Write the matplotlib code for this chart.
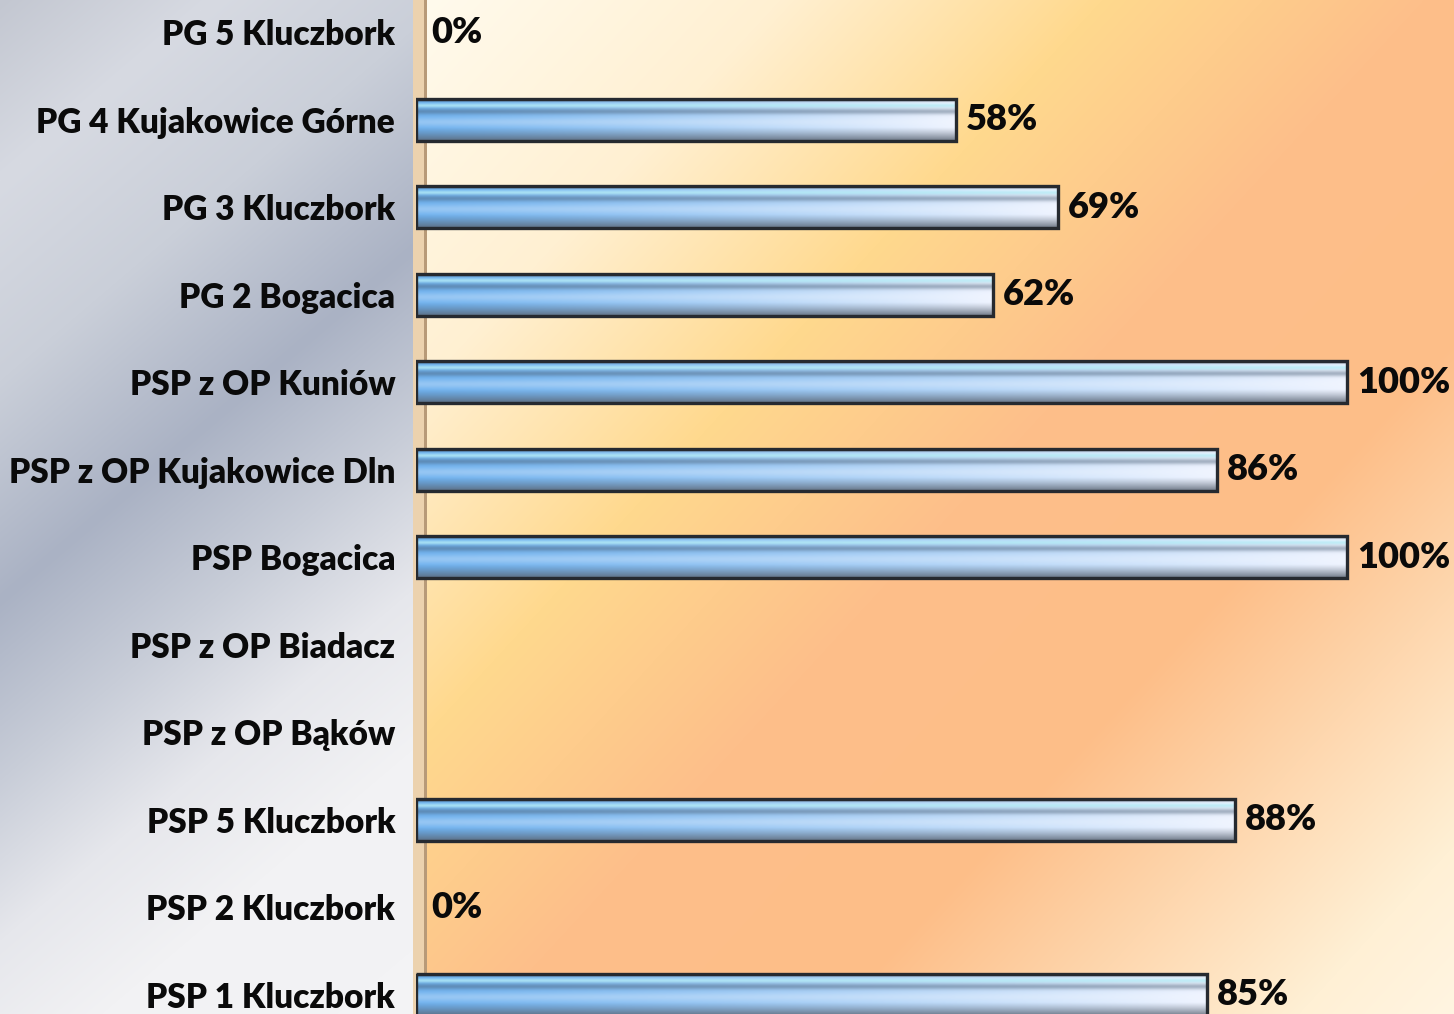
import numpy as np
import matplotlib
matplotlib.use("Agg")
import matplotlib.pyplot as plt
from matplotlib.colors import to_rgb

# data (top to bottom as in the chart); None = no value shown
schools = ["PG 5 Kluczbork", "PG 4 Kujakowice Górne", "PG 3 Kluczbork", "PG 2 Bogacica",
           "PSP z OP Kuniów", "PSP z OP Kujakowice Dln", "PSP Bogacica", "PSP z OP Biadacz",
           "PSP z OP Bąków", "PSP 5 Kluczbork", "PSP 2 Kluczbork", "PSP 1 Kluczbork"]
percent = [0, 58, 69, 62, 100, 86, 100, None, None, 88, 0, 85]

W, H = 1454, 1014
AX_LEFT = 416  # px where the plot area starts

plt.rcParams['font.family'] = ['Lato', 'DejaVu Sans']


def ramp(d, stops):
    # piecewise linear colour ramp, stops = [(pos, hex), ...]
    pos = [s[0] for s in stops]
    cols = np.array([to_rgb(s[1]) for s in stops])
    return np.stack([np.interp(d, pos, cols[:, k]) for k in range(3)], axis=-1)


# ---- background (silver panel on the left, warm gradient in the plot area)
yy, xx = np.mgrid[0:H, 0:W].astype(float)
silver = ramp(yy + 0.85 * xx, [(0, '#c3c7d1'), (180, '#d7dae2'), (380, '#cacfd9'),
                                (600, '#aab2c4'), (780, '#c8cdd8'), (940, '#e6e7ec'),
                                (1100, '#f2f2f4'), (1500, '#f4f4f6')])
u = (xx - AX_LEFT) / (W - AX_LEFT)
v = yy / H
warm = ramp(u + 0.9 * v, [(0, '#fffbee'), (0.35, '#fff0d2'), (0.66, '#ffd98e'),
                           (0.97, '#fdbf8a'), (1.3, '#fdbe88'), (1.75, '#fff0d5'),
                           (2.0, '#fff8ea')])
bg_img = np.where((xx < AX_LEFT - 3)[..., None], silver, warm)
# thin tan "wall" strip along the value axis
strip = (xx >= AX_LEFT - 3) & (xx < AX_LEFT + 8)
bg_img[strip] = to_rgb('#ecd2ae')
edge = (xx >= AX_LEFT + 8) & (xx < AX_LEFT + 11)
bg_img[edge] = to_rgb('#b89a78')

fig = plt.figure(figsize=(W / 100, H / 100), dpi=100)
bg = fig.add_axes([0, 0, 1, 1], zorder=-10)
bg.imshow(bg_img, aspect='auto', interpolation='bilinear')
bg.axis('off')

# ---- main axes
ax = fig.add_axes([AX_LEFT / W, 0, 1 - AX_LEFT / W, 1])
ax.patch.set_alpha(0)

pos = np.arange(len(schools))
has = [p is not None for p in percent]
vals = np.array([p for p in percent if p is not None], dtype=float)
bars = ax.barh(pos[has], vals, height=0.48, facecolor='none',
               edgecolor='#262a30', linewidth=2.4, zorder=3)

# bar texture: blue -> white along the bar, bevel shading across it
nx, ny = 300, 60
t = np.linspace(0, 1, nx) ** 1.2
blue, white = np.array(to_rgb('#6cb0ee')), np.array(to_rgb('#eef3ff'))
base = blue[None, :] * (1 - t[:, None]) + white[None, :] * t[:, None]
tex = np.repeat(base[None, :, :], ny, axis=0)
p = np.linspace(0, 1, ny)[:, None, None]


def band(c, a):
    global tex
    tex = tex * (1 - a) + np.array(to_rgb(c)) * a


band('#2f3c4a', np.clip((0.1 - p) / 0.1, 0, 1) * 0.9)
band('#b5ecf6', np.exp(-((p - 0.17) / 0.05) ** 2) * 0.8)
band('#4d6278', np.exp(-((p - 0.31) / 0.07) ** 2) * 0.45)
band('#f4f8ff', np.exp(-((p - 0.56) / 0.11) ** 2) * 0.3)
band('#5a6472', np.clip((p - 0.68) / 0.32, 0, 1) ** 1.2 * 0.85)
tex = np.clip(tex, 0, 1)

for b in bars:
    if b.get_width() <= 0:
        b.set_linewidth(0)
        continue
    x0, y0 = b.get_x(), b.get_y()
    im = ax.imshow(tex, extent=[x0, x0 + b.get_width(), y0 + b.get_height(), y0],
                   aspect='auto', interpolation='bilinear', zorder=2)
    im.set_clip_path(b)

# value labels
for i, pv in zip(pos, percent):
    if pv is None:
        continue
    ax.annotate(f"{pv}%", xy=(pv, i), xytext=(7 if pv else 11, 0),
                textcoords='offset points', va='center', ha='left',
                fontsize=26, fontweight='heavy', color='#0a0a0a', zorder=5)

ax.set_xlim(0, (W - AX_LEFT) / 931 * 100)
ax.set_ylim(11.22, -0.366)
ax.set_yticks(pos)
ax.set_yticklabels(schools, fontsize=24, fontweight='heavy', color='#0a0a0a')
ax.tick_params(axis='y', length=0, pad=15)
ax.set_xticks([])
for s in ax.spines.values():
    s.set_visible(False)

fig.savefig('out.png', dpi=100)
